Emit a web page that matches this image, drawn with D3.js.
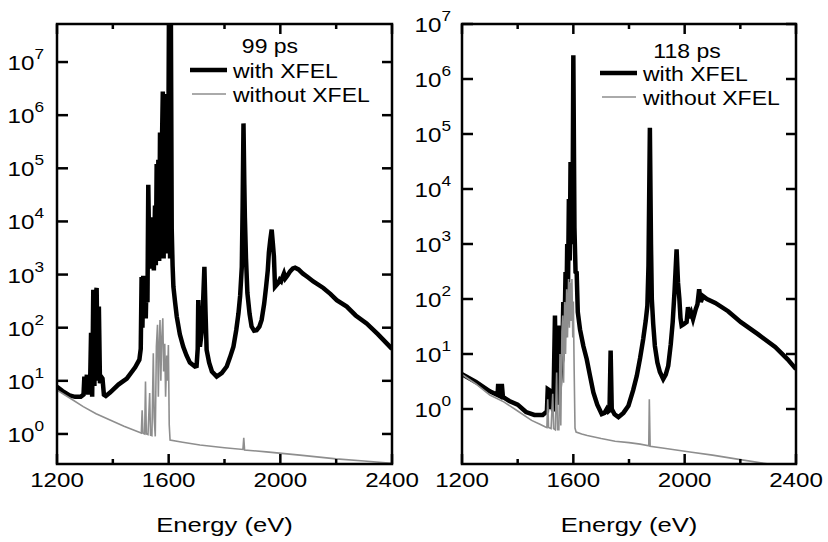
<!DOCTYPE html>
<html>
<head>
<meta charset="utf-8">
<script src="https://cdn.jsdelivr.net/npm/d3@7"></script>
<style>
body { margin: 0; background: #fff; }
svg { display: block; background: #fff; }
text { font-family: "Liberation Sans", Arial, Helvetica, sans-serif; fill: #000; }
</style>
</head>
<body>
<svg width="828" height="542"></svg>
<script>
/* axis ticks */
const xTicks = [1200, 1400, 1600, 1800, 2000, 2200, 2400];
const xLabels = [1200, 1600, 2000, 2400];
const yDecades = [0, 1, 2, 3, 4, 5, 6, 7];

/* 99 ps spectra: [energy eV, intensity] */
const with99 = [[1200,7.7],[1220,6.4],[1245,5.3],[1265,5.0],[1285,5.0],[1295,5.5],[1298,12],[1302,6],[1307,13],[1311,6],[1318,6],[1322,80],[1326,5],[1330,520],[1334,8],[1338,400],[1342,560],[1346,10],[1350,250],[1354,9],[1358,12],[1363,11],[1368,5.5],[1375,5.2],[1390,6],[1420,8.5],[1450,11],[1480,18],[1495,25],[1500,40],[1503,900],[1506,100],[1509,950],[1512,200],[1515,900],[1518,150],[1521,900],[1524,300],[1527,49000],[1531,1500],[1535,12000],[1539,1300],[1543,3000],[1547,1200],[1551,20000],[1554,1500],[1557,120000],[1560,2000],[1563,145000],[1566,1800],[1569,470000],[1572,2500],[1576,300000],[1579,2800000],[1582,2000],[1586,2500000],[1589,3000],[1593,400000],[1597,2500],[1601,8e7],[1605,2000],[1608,6e7],[1611,7000],[1614,1500],[1617,590],[1623,300],[1629,162],[1640,75],[1652,44],[1664,30],[1676,22],[1694,18.6],[1700,19],[1704,40],[1706,333],[1709,60],[1712,44],[1718,80],[1722,200],[1728,1400],[1732,200],[1736,38],[1745,22],[1755,15],[1772,12],[1790,14],[1808,18.6],[1820,28],[1832,44],[1842,90],[1850,186],[1856,400],[1862,1400],[1865,20000],[1868,700000],[1871,50000],[1873,12000],[1877,2000],[1882,450],[1890,180],[1897,105],[1906,88],[1915,90],[1925,105],[1933,140],[1942,280],[1949,590],[1955,1200],[1959,2600],[1964,4500],[1969,7000],[1973,4000],[1977,2200],[1981,590],[1987,640],[1993,700],[1998,800],[2003,750],[2008,900],[2013,1050],[2018,850],[2025,950],[2035,1150],[2045,1300],[2053,1350],[2065,1250],[2080,1050],[2100,880],[2118,740],[2154,560],[2180,430],[2202,330],[2238,250],[2270,170],[2309,120],[2350,75],[2400,40]];
const without99 = [[1200,6.7],[1250,4.6],[1294,3.27],[1340,2.4],[1390,1.83],[1440,1.4],[1497,1.06],[1502,1.04],[1505,2.8],[1508,1.03],[1514,1.0],[1517,9.7],[1520,1.0],[1526,0.97],[1532,5.9],[1535,0.95],[1540,0.93],[1545,33],[1548,2],[1552,0.9],[1556,44],[1560,113],[1563,5],[1566,45],[1569,140],[1572,10],[1575,60],[1579,150],[1582,15],[1586,50],[1589,5],[1593,30],[1596,10],[1599,47],[1602,1.5],[1605,0.77],[1650,0.7],[1712,0.62],[1800,0.55],[1866,0.51],[1869,0.85],[1872,0.5],[1950,0.46],[2070,0.40],[2200,0.34],[2300,0.31],[2400,0.28]];

/* 118 ps spectra */
const with118 = [[1200,4.3],[1250,3.1],[1300,2.1],[1328,1.8],[1330,2.85],[1334,1.75],[1338,1.7],[1343,2.85],[1347,1.65],[1370,1.4],[1400,1.2],[1430,0.88],[1460,0.78],[1490,0.78],[1505,0.9],[1508,2.3],[1514,2.2],[1518,1.0],[1522,1.5],[1528,0.9],[1534,50],[1538,1.5],[1542,1.2],[1546,33],[1550,2],[1555,5],[1560,8],[1564,88],[1568,20],[1572,310],[1575,60],[1578,1000],[1581,200],[1584,6600],[1587,500],[1590,31000],[1594,1000],[1597,1500],[1600,2700000],[1604,2000],[1608,310],[1612,300],[1616,58],[1624,28],[1636,14],[1648,8.1],[1660,4],[1672,2.0],[1686,1.2],[1702,0.81],[1712,0.85],[1720,1.0],[1725,0.9],[1730,0.95],[1734,11.5],[1738,1.0],[1748,0.8],[1762,0.71],[1780,0.85],[1798,1.15],[1815,2.2],[1828,4.0],[1840,8.5],[1851,18.7],[1860,40],[1866,75],[1870,400],[1875,130000],[1879,1000],[1882,100],[1887,35],[1893,14],[1902,7],[1911,4.7],[1923,3.5],[1932,4.2],[1941,6.1],[1950,15],[1957,38],[1964,150],[1971,800],[1976,200],[1981,100],[1985,45],[1989,33],[1997,35],[2007,38],[2012,71],[2018,45],[2024,55],[2030,43],[2040,66],[2046,80],[2052,150],[2058,88],[2066,113],[2080,100],[2110,85],[2156,60],[2202,38],[2263,23],[2325,13.4],[2370,8],[2400,5.3]];
const without118 = [[1200,4.25],[1250,2.85],[1300,1.8],[1350,1.35],[1400,0.92],[1450,0.62],[1480,0.53],[1500,0.47],[1505,0.46],[1508,1.5],[1511,0.46],[1520,0.44],[1526,1.9],[1529,0.44],[1535,0.42],[1540,4.6],[1543,0.42],[1548,0.42],[1552,10],[1555,0.5],[1559,25],[1562,50],[1565,3],[1569,88],[1572,10],[1576,150],[1579,20],[1583,230],[1586,30],[1589,200],[1592,40],[1595,230],[1598,20],[1600,90],[1603,5],[1606,0.45],[1610,0.38],[1630,0.35],[1650,0.33],[1700,0.29],[1750,0.26],[1800,0.245],[1840,0.23],[1871,0.215],[1873,1.5],[1876,0.21],[1920,0.195],[2019,0.165],[2100,0.145],[2200,0.12],[2325,0.096],[2400,0.088]];

const svg = d3.select("svg");
const plotTop = 24, plotBottom = 464;
const sx = 1.15; // reference text is horizontally stretched

function addText(g, x, y, str, size, anchor, scale) {
	return g.append("text")
		.attr("transform", `translate(${x},${y}) scale(${scale || sx},1)`)
		.attr("text-anchor", anchor)
		.style("font-size", size + "px")
		.text(str);
}

const panels = [
	{ id: "p99", x0: 57, x1: 392, yDomain: [0.272, 5.2e7], title: "99 ps", withX: with99, noX: without99,
	  titleX: 270, titleY: 53, legX: 190, legY: 70, labelGap: 13 },
	{ id: "p118", x0: 462, x1: 796, yDomain: [0.1, 1e7], title: "118 ps", withX: with118, noX: without118,
	  titleX: 687, titleY: 58, legX: 600, legY: 73, labelGap: 11 }
];

panels.forEach(function(p) {
	const xScale = d3.scaleLinear().domain([1200, 2400]).range([p.x0, p.x1]);
	const yScale = d3.scaleLog().domain(p.yDomain).range([plotBottom, plotTop]);
	const g = svg.append("g");

	g.append("clipPath").attr("id", "clip-" + p.id)
		.append("rect")
		.attr("x", p.x0).attr("y", plotTop)
		.attr("width", p.x1 - p.x0).attr("height", plotBottom - plotTop);

	const lineGenerator = d3.line()
		.x(function(d) { return xScale(d[0]); })
		.y(function(d) { return yScale(d[1]); });

	const plot = g.append("g").attr("clip-path", `url(#clip-${p.id})`);
	plot.append("path")
		.attr("d", lineGenerator(p.withX))
		.style("fill", "none")
		.style("stroke", "#000")
		.style("stroke-width", "4.5px");
	plot.append("path")
		.attr("d", lineGenerator(p.noX))
		.style("fill", "none")
		.style("stroke", "#8e8e8e")
		.style("stroke-width", "1.6px");

	/* frame */
	g.append("rect")
		.attr("x", p.x0).attr("y", plotTop)
		.attr("width", p.x1 - p.x0).attr("height", plotBottom - plotTop)
		.style("fill", "none").style("stroke", "#000").style("stroke-width", "2.5px");

	/* x ticks, inward on bottom and top */
	xTicks.forEach(function(v) {
		const len = xLabels.indexOf(v) >= 0 ? 10 : 5;
		const xp = xScale(v);
		g.append("line").attr("x1", xp).attr("x2", xp).attr("y1", plotBottom).attr("y2", plotBottom - len)
			.style("stroke", "#000").style("stroke-width", "2.5px");
		g.append("line").attr("x1", xp).attr("x2", xp).attr("y1", plotTop).attr("y2", plotTop + len)
			.style("stroke", "#000").style("stroke-width", "2.5px");
	});
	xLabels.forEach(function(v) {
		addText(g, xScale(v), plotBottom + 23, String(v), 21, "middle");
	});

	/* y ticks, inward on left and right */
	yDecades.forEach(function(n) {
		const yp = yScale(Math.pow(10, n));
		g.append("line").attr("x1", p.x0).attr("x2", p.x0 + 11).attr("y1", yp).attr("y2", yp)
			.style("stroke", "#000").style("stroke-width", "2.5px");
		g.append("line").attr("x1", p.x1).attr("x2", p.x1 - 10).attr("y1", yp).attr("y2", yp)
			.style("stroke", "#000").style("stroke-width", "2.5px");
		const t = g.append("text")
			.attr("transform", `translate(${p.x0 - p.labelGap},${yp + 8}) scale(${sx},1)`)
			.attr("text-anchor", "end")
			.style("font-size", "21px");
		t.append("tspan").text("10");
		t.append("tspan").attr("dy", -11).style("font-size", "15px").text(n);
	});

	addText(g, (p.x0 + p.x1) / 2, 532, "Energy (eV)", 21, "middle", 1.22);

	/* title and legend */
	addText(g, p.titleX, p.titleY, p.title, 20, "middle");
	g.append("line").attr("x1", p.legX).attr("x2", p.legX + 37).attr("y1", p.legY).attr("y2", p.legY)
		.style("stroke", "#000").style("stroke-width", "4.5px");
	addText(g, p.legX + 43, p.legY + 8, "with XFEL", 20, "start");
	g.append("line").attr("x1", p.legX + 2).attr("x2", p.legX + 36).attr("y1", p.legY + 24).attr("y2", p.legY + 24)
		.style("stroke", "#8e8e8e").style("stroke-width", "1.6px");
	addText(g, p.legX + 43, p.legY + 32, "without XFEL", 20, "start");
});
</script>
</body>
</html>
